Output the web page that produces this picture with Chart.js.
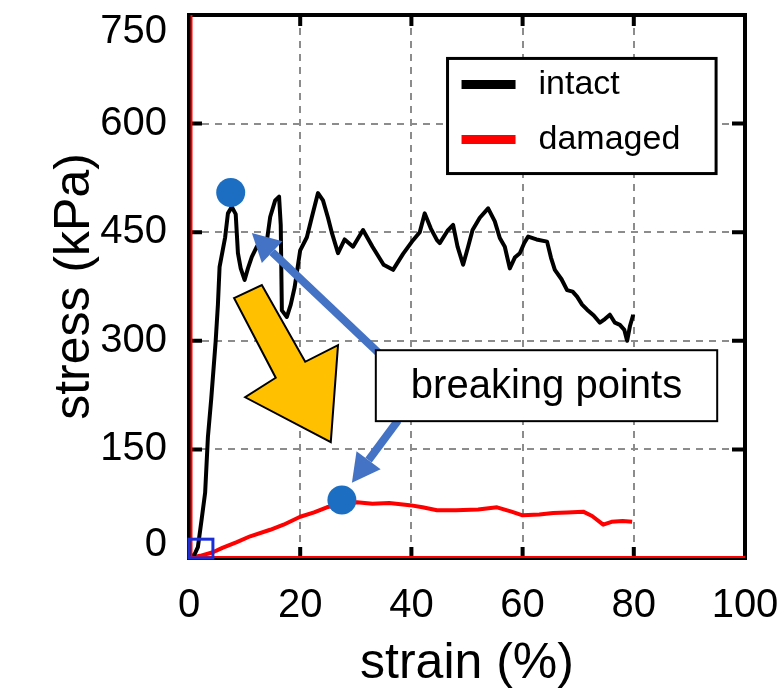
<!DOCTYPE html>
<html>
<head>
<meta charset="utf-8">
<script src="https://cdn.jsdelivr.net/npm/chart.js@4.4.1/dist/chart.umd.min.js"></script>
<style>
  html,body{margin:0;padding:0;background:#fff}
  #wrap{width:781px;height:698px;position:relative}
</style>
</head>
<body>
<div id="wrap"><canvas id="c"></canvas></div>
<script>
// ---------- data ----------
const intactStrain = [0,1,1.6,2.3,2.9,3.4,4,4.8,5.2,5.5,6.5,7,7.7,8.4,8.8,9.3,10,10.6,11.3,12.2,13,13.7,14.6,15.5,16.2,16.5,16.7,17.6,18.3,19,20,21.2,22.1,23.2,24.1,25,25.7,26.8,28,29.5,31.3,33,35,36.7,38.5,40.3,41.5,42.4,43.5,44.6,45.1,46.5,47.5,48.3,49.3,50.2,51,52.3,53.8,55,55.9,56.8,57.7,58.6,59.5,60.3,61,62.5,64.4,65.1,65.8,67,68,69,69.8,70.7,71.6,72.8,73.9,74.8,75.7,76.6,77.5,78.3,78.8,79.3,79.9];
const intactStress = [0,5,15,55,90,167,220,300,350,402,443,476,485,475,421,400,384,400,416,430,425,421,471,494,499,460,342,333,350,374,425,443,471,504,494,470,449,421,440,430,453,430,405,398,420,439,450,476,455,439,435,452,460,430,405,430,453,470,483,465,442,430,400,415,421,435,444,440,437,415,398,385,370,368,361,350,343,335,325,330,336,325,322,315,300,320,336];

const damagedStrain = [0,2,4.3,6,8.6,11,14.6,17,20,22.5,24.8,27,30.2,33,36,39.7,42,44.6,48,52,55.4,58,60,63,65.5,68,70.9,72.5,74.5,76,78,79.7];
const damagedStress = [0,3,8,14,22,30,39,46,57,63,70,74,77,75,76,73,70,66,66,67,70,64,59,60,62,63,64,58,46,50,51,50];

const seriesLabels = ["intact", "damaged"];
const seriesColors = ["#000000", "#ff0000"];

const xTicks = [0, 20, 40, 60, 80, 100];
const yTicks = [0, 150, 300, 450, 600, 750];

// breaking points (strain, stress)
const breakStrain = [7.5, 27.5];
const breakStress = [505, 80];

// annotation shapes, in data units
const yellowArrowStrain = [8.1, 13.1, 20.9, 26.8, 25.5, 10.1, 15.6];
const yellowArrowStress = [359, 377, 271, 294, 160, 222, 249];
const blueArrowFrom = [[34, 284], [37.6, 190]];
const blueArrowTo = [[11.3, 449], [29.3, 104]];
const noteBox = [33.6, 95, 189, 287]; // strain0, strain1, stress0, stress1
const noteText = "breaking points";
const originBox = [0, 4.3, 0, 26];
const legendBox = [46.5, 94.8, 531, 690];

const toPts = (xs, ys) => xs.map((v, i) => ({ x: v, y: ys[i] }));

// ---------- decorations ----------
function arrow(ctx, x0, y0, x1, y1, w, headL, headW, color){
  const ang = Math.atan2(y1 - y0, x1 - x0);
  const bx = x1 - Math.cos(ang) * headL, by = y1 - Math.sin(ang) * headL;
  ctx.strokeStyle = color; ctx.lineWidth = w; ctx.lineCap = "butt";
  ctx.beginPath(); ctx.moveTo(x0, y0); ctx.lineTo(bx, by); ctx.stroke();
  const nx = -Math.sin(ang) * headW / 2, ny = Math.cos(ang) * headW / 2;
  ctx.fillStyle = color;
  ctx.beginPath();
  ctx.moveTo(x1, y1); ctx.lineTo(bx + nx, by + ny); ctx.lineTo(bx - nx, by - ny);
  ctx.closePath(); ctx.fill();
}

const font = "'Liberation Sans', Arial, sans-serif";

const decor = {
  id: "decor",
  afterDatasetsDraw(chart){
    const { ctx, chartArea: a, scales: { x, y } } = chart;
    const X = v => x.getPixelForValue(v), Y = v => y.getPixelForValue(v);
    ctx.save();

    // frame + inner ticks
    ctx.strokeStyle = "#000"; ctx.lineWidth = 4;
    ctx.strokeRect(a.left, a.top, a.width, a.height);
    ctx.beginPath();
    xTicks.slice(1, -1).forEach(v => {
      ctx.moveTo(X(v), a.bottom); ctx.lineTo(X(v), a.bottom - 11);
      ctx.moveTo(X(v), a.top); ctx.lineTo(X(v), a.top + 11);
    });
    yTicks.slice(1, -1).forEach(v => {
      ctx.moveTo(a.left, Y(v)); ctx.lineTo(a.left + 13, Y(v));
      ctx.moveTo(a.right, Y(v)); ctx.lineTo(a.right - 13, Y(v));
    });
    ctx.stroke();

    // red edges
    ctx.strokeStyle = "#ff0000"; ctx.lineWidth = 2;
    ctx.beginPath();
    ctx.moveTo(a.left + 2.5, a.top); ctx.lineTo(a.left + 2.5, a.bottom);
    ctx.moveTo(a.left, a.bottom - 1); ctx.lineTo(a.right, a.bottom - 1);
    ctx.stroke();

    // origin box
    ctx.strokeStyle = "#1a2ed8"; ctx.lineWidth = 3;
    ctx.strokeRect(X(originBox[0]), Y(originBox[3]), X(originBox[1]) - X(originBox[0]), Y(originBox[2]) - Y(originBox[3]));

    // yellow arrow
    ctx.beginPath();
    yellowArrowStrain.forEach((v, i) => {
      const px = X(v), py = Y(yellowArrowStress[i]);
      i ? ctx.lineTo(px, py) : ctx.moveTo(px, py);
    });
    ctx.closePath();
    ctx.fillStyle = "#ffc000"; ctx.fill();
    ctx.strokeStyle = "#000"; ctx.lineWidth = 2; ctx.lineJoin = "miter"; ctx.stroke();

    // blue arrows
    blueArrowFrom.forEach((f, i) => {
      const t = blueArrowTo[i];
      arrow(ctx, X(f[0]), Y(f[1]), X(t[0]), Y(t[1]), 8, 28, 30, "#4472c4");
    });

    // breaking point markers
    ctx.fillStyle = "#1b6ec2";
    breakStrain.forEach((v, i) => {
      ctx.beginPath(); ctx.arc(X(v), Y(breakStress[i]), 14.5, 0, Math.PI * 2); ctx.fill();
    });

    // note box
    const bx0 = X(noteBox[0]), bx1 = X(noteBox[1]), by0 = Y(noteBox[3]), by1 = Y(noteBox[2]);
    ctx.fillStyle = "#fff"; ctx.fillRect(bx0, by0, bx1 - bx0, by1 - by0);
    ctx.strokeStyle = "#000"; ctx.lineWidth = 2; ctx.strokeRect(bx0, by0, bx1 - bx0, by1 - by0);
    ctx.fillStyle = "#000"; ctx.font = "40px " + font;
    ctx.textAlign = "center"; ctx.textBaseline = "middle";
    ctx.fillText(noteText, (bx0 + bx1) / 2, (by0 + by1) / 2 + 1);

    // legend
    const lx0 = X(legendBox[0]), lx1 = X(legendBox[1]), ly0 = Y(legendBox[3]), ly1 = Y(legendBox[2]);
    ctx.fillStyle = "#fff"; ctx.fillRect(lx0, ly0, lx1 - lx0, ly1 - ly0);
    ctx.strokeStyle = "#000"; ctx.lineWidth = 3; ctx.strokeRect(lx0, ly0, lx1 - lx0, ly1 - ly0);
    ctx.font = "34px " + font;
    ctx.textAlign = "left"; ctx.textBaseline = "middle";
    chart.data.datasets.forEach((ds, i) => {
      const ry = ly0 + 26 + i * 55;
      ctx.strokeStyle = ds.borderColor; ctx.lineWidth = 9;
      ctx.beginPath(); ctx.moveTo(lx0 + 14, ry); ctx.lineTo(lx0 + 68, ry); ctx.stroke();
      ctx.fillStyle = "#000"; ctx.fillText(ds.label, lx0 + 91, ry);
    });
    ctx.restore();
  }
};

// nudge the end labels of the stress axis inward, like the original figure
const yLabelLift = v => v === 750 ? 0.85 : v === 0 ? 0.65 : 1.2;

new Chart(document.getElementById("c"), {
  type: "line",
  data: {
    datasets: [
      { label: seriesLabels[0], data: toPts(intactStrain, intactStress), borderColor: seriesColors[0], borderWidth: 4 },
      { label: seriesLabels[1], data: toPts(damagedStrain, damagedStress), borderColor: seriesColors[1], borderWidth: 4 }
    ]
  },
  options: {
    responsive: true, maintainAspectRatio: false, animation: false,
    layout: { padding: { top: 15, right: 36, left: 0, bottom: 0 } },
    elements: { point: { radius: 0 }, line: { tension: 0, borderJoinStyle: "round" } },
    plugins: { legend: { display: false }, tooltip: { enabled: false } },
    scales: {
      x: {
        type: "linear", min: 0, max: 100,
        afterBuildTicks: s => { s.ticks = xTicks.map(v => ({ value: v })); },
        afterFit: s => { s.height = 140; s.paddingLeft = 0; s.paddingRight = 0; },
        ticks: { color: "#000", padding: 24, font: { family: font, size: 40 } },
        grid: { color: "#8c8c8c", lineWidth: 2, drawTicks: false },
        border: { display: false, dash: [7, 6] },
        title: { display: true, text: "strain (%)", color: "#000", font: { family: font, size: 50 }, padding: { top: 0, bottom: 4 } }
      },
      y: {
        type: "linear", min: 0, max: 750,
        afterBuildTicks: s => { s.ticks = yTicks.map(v => ({ value: v })); },
        afterFit: s => { s.width = 189; s.paddingTop = 0; s.paddingBottom = 0; },
        ticks: {
          color: "#000", padding: 22,
          font: c => ({ family: font, size: 40, lineHeight: c.tick ? yLabelLift(c.tick.value) : 1.2 }),
          callback: v => v === 750 ? ["", "750"] : v === 0 ? ["0", ""] : String(v)
        },
        grid: { color: "#8c8c8c", lineWidth: 2, drawTicks: false },
        border: { display: false, dash: [7, 6] },
        title: { display: true, text: "stress (kPa)", color: "#000", font: { family: font, size: 50 }, padding: { top: 45, bottom: 0 } }
      }
    }
  },
  plugins: [decor]
});
</script>
</body>
</html>
